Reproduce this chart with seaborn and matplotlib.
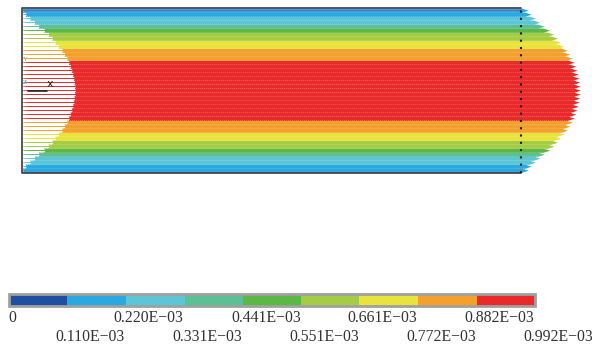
import numpy as np
import matplotlib
matplotlib.use("Agg")
import matplotlib as mpl
import matplotlib.pyplot as plt
import seaborn as sns
from matplotlib.colors import ListedColormap, BoundaryNorm
from matplotlib import transforms

sns.set_theme(style="white")
plt.rcParams["font.family"] = ["Liberation Serif", "DejaVu Serif"]

# legend bands of velocity magnitude (values in units of 1E-03)
levels = [0, 0.110, 0.220, 0.331, 0.441, 0.551, 0.661, 0.772, 0.882, 0.992]
level_labels = ["0", "0.110E\u221203", "0.220E\u221203", "0.331E\u221203", "0.441E\u221203",
                "0.551E\u221203", "0.661E\u221203", "0.772E\u221203", "0.882E\u221203", "0.992E\u221203"]
band_colors = ["#1f4fa0", "#2aa8e0", "#5cc6d6", "#5cc094", "#5cb844",
               "#a4cc44", "#e8e43c", "#f4a02c", "#ea2a2a"]

# velocity of each row of vectors, wall to wall (units of 1E-03)
row_velocity = [0.14, 0.19, 0.26, 0.33, 0.40, 0.49, 0.56, 0.62, 0.67, 0.72,
                0.78, 0.82, 0.86, 0.89, 0.915, 0.937, 0.955, 0.97, 0.98, 0.988,
                0.992,
                0.988, 0.98, 0.97, 0.955, 0.937, 0.915, 0.89, 0.86, 0.82, 0.78,
                0.72, 0.67, 0.62, 0.56, 0.49, 0.40, 0.33, 0.26, 0.19, 0.14]

pipe_len = 499
pipe_r = 82.5

cmap = ListedColormap(band_colors)
norm = BoundaryNorm(levels, cmap.N)

y_rows = np.linspace(-80, 80, len(row_velocity))
x_cols = np.arange(0, pipe_len + 1, 2)
X, Y = np.meshgrid(x_cols, y_rows)
U = np.repeat(np.array(row_velocity)[:, None], len(x_cols), axis=1)
V = np.zeros_like(U)

fig = plt.figure(figsize=(5.92, 3.48), dpi=100)
ax = fig.add_axes([0, 168 / 348, 1, 180 / 348])
ax.quiver(X, Y, U, V, U, cmap=cmap, norm=norm, angles="xy", scale_units="xy",
          scale=0.992 / 61, units="xy", width=0.5, headwidth=10, headlength=16,
          headaxislength=14, pivot="tail")

# pipe walls and inlet, outlet drawn dotted
ax.plot([0, pipe_len], [pipe_r - 1.5, pipe_r - 1.5], color="#6a6ac8", lw=0.8)
ax.plot([0, pipe_len], [-pipe_r + 1.5, -pipe_r + 1.5], color="#6a6ac8", lw=0.8)
ax.plot([pipe_len, 0, 0, pipe_len], [pipe_r, pipe_r, -pipe_r, -pipe_r], color="#4a4a4a", lw=1.3)
ax.plot([pipe_len, pipe_len], [-pipe_r, pipe_r], color="k", ls=(0, (1, 2.5)), lw=1.5)

# little axis triad at the inlet
ax.plot([6, 25], [-0.8, -0.8], color="#222222", lw=1.2)
ax.text(28, 6.5, "x", fontsize=8, ha="center", va="center", color="#222222", family="DejaVu Sans")
ax.text(3, 31, "Y", fontsize=5, ha="center", va="center", color="#7ab648")
ax.text(3, 8, "Z", fontsize=5, ha="center", va="center", color="#3a9ad0")

ax.set_xlim(-22, 570)
ax.set_ylim(-89.3, 90.7)
ax.axis("off")

# colour legend
cax = fig.add_axes([9 / 592, 42 / 348, 526 / 592, 12 / 348])
cb = mpl.colorbar.ColorbarBase(cax, cmap=cmap, norm=norm, orientation="horizontal",
                               spacing="proportional")
cb.outline.set_edgecolor("#a0a0a0")
cb.outline.set_linewidth(2)
cb.set_ticks([])
cax.minorticks_off()
cax.tick_params(which="both", length=0, labelbottom=False)

trans = transforms.blended_transform_factory(cax.transData, cax.transAxes)
for i, (lev, lab) in enumerate(zip(levels, level_labels)):
    y = -1.0 if i % 2 == 0 else -2.6
    if i == 0:
        t = transforms.offset_copy(trans, fig=fig, x=-1, y=0, units="dots")
        cax.text(lev, y, lab, transform=t, ha="left", va="center", fontsize=11.3, color="#333333")
    else:
        t = transforms.offset_copy(trans, fig=fig, x=23, y=0, units="dots")
        cax.text(lev, y, lab, transform=t, ha="center", va="center", fontsize=11.3, color="#333333")

fig.savefig("out.png", dpi=100)
